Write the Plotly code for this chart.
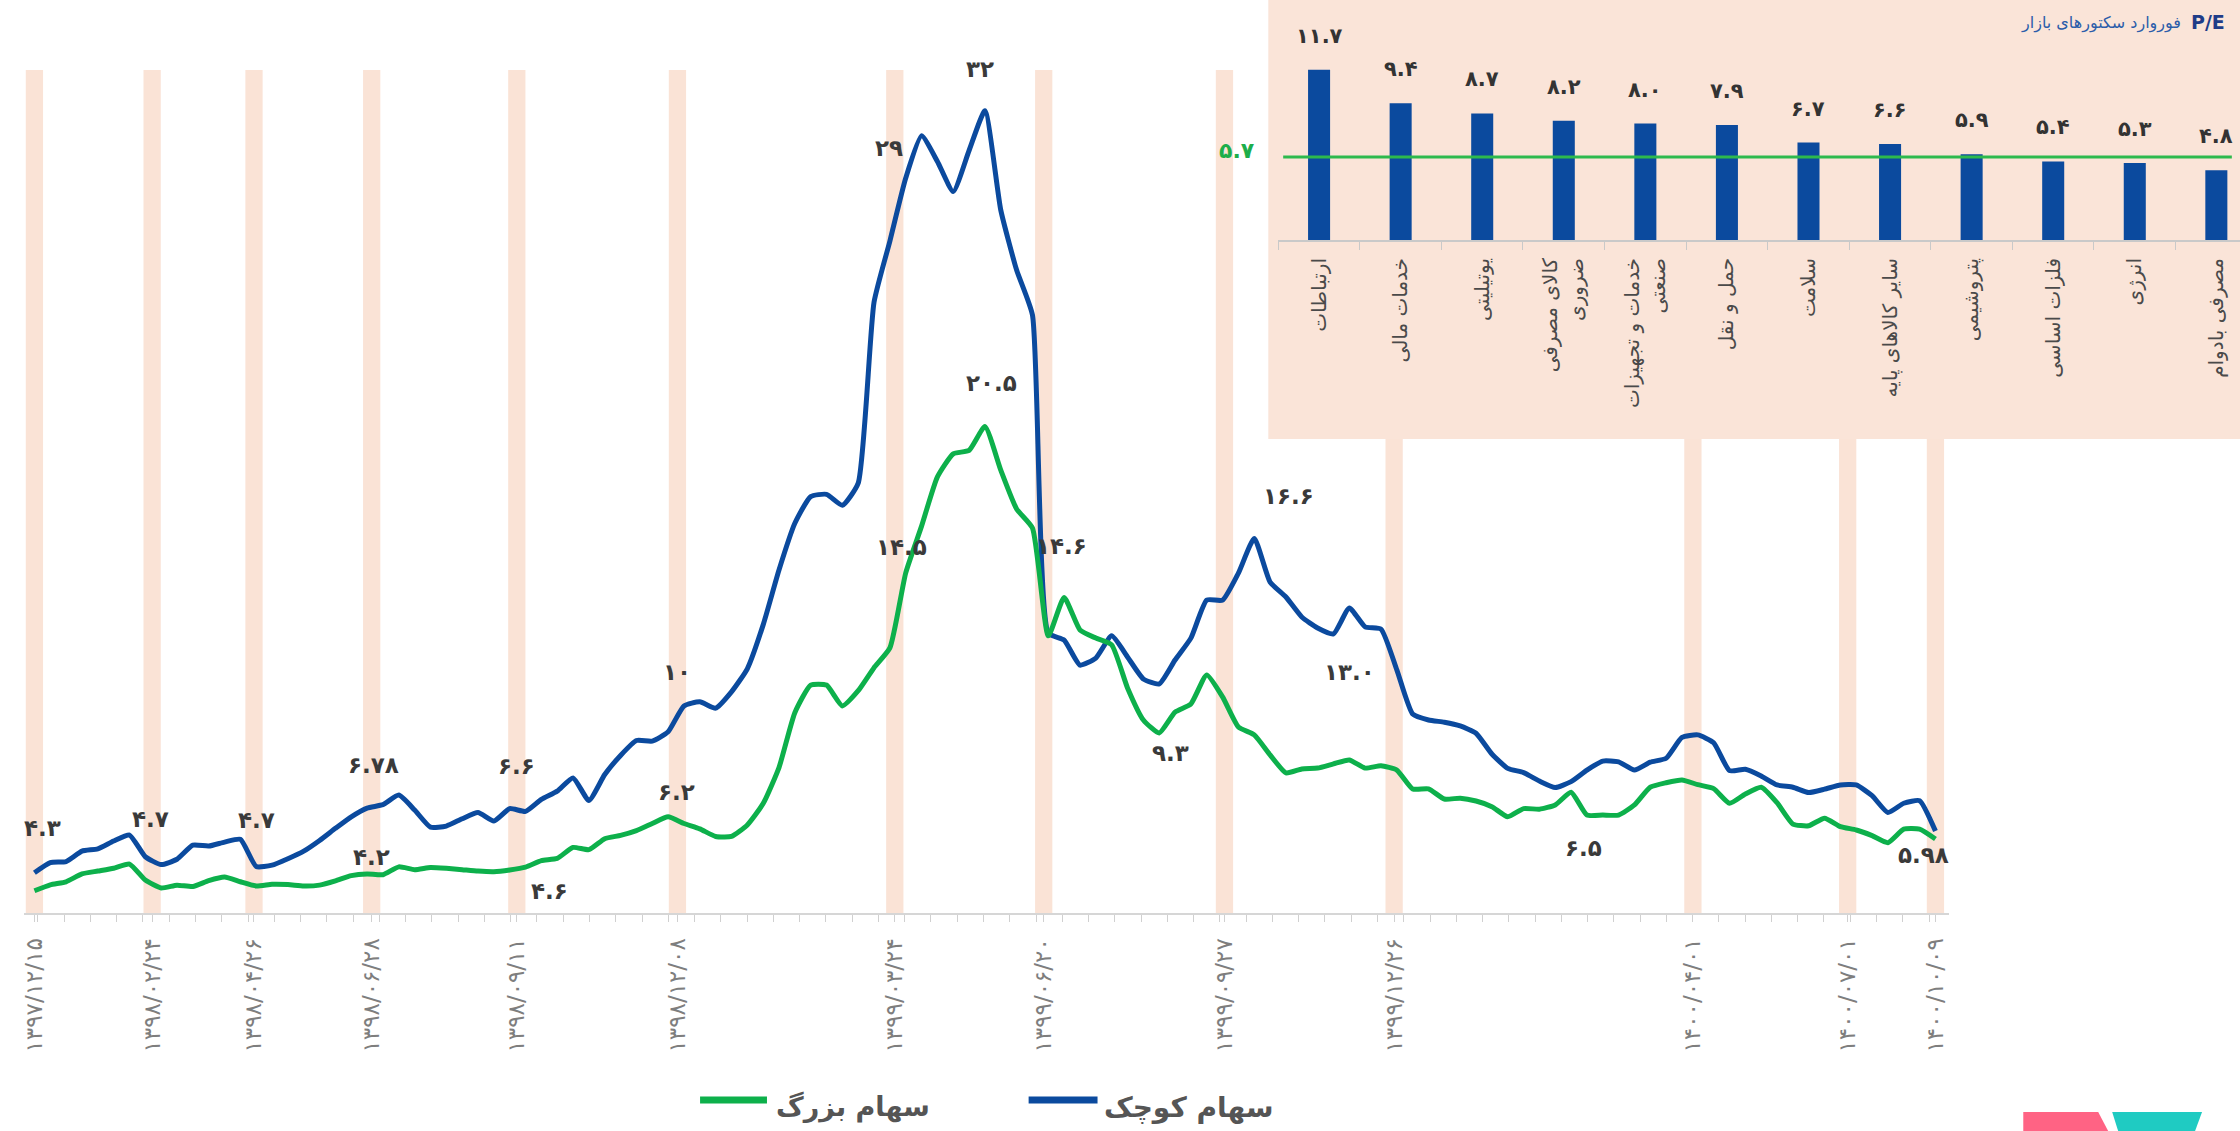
import plotly.graph_objects as go

W, H = 2240, 1131

# ---------------- main chart data (P/E per period) ----------------
# سهام کوچک (small caps, blue)
small_caps_pe = [
    4.52, 4.88, 4.92, 5.29, 5.37, 5.65, 5.86, 5.09, 4.81, 5.00,
    5.50, 5.47, 5.61, 5.71, 4.74, 4.79, 5.02, 5.29, 5.67, 6.10,
    6.51, 6.82, 6.94, 7.28, 6.75, 6.14, 6.18, 6.44, 6.66, 6.36,
    6.80, 6.70, 7.13, 7.42, 7.89, 7.09, 8.01, 8.69, 9.22, 9.20,
    9.53, 10.45, 10.60, 10.37, 10.95, 11.77, 13.33, 15.28, 16.94, 17.89,
    17.97, 17.58, 18.37, 24.80, 26.97, 29.21, 30.71, 29.80, 28.73, 30.19,
    31.60, 28.07, 25.94, 24.34, 13.04, 12.79, 11.90, 12.15, 12.94, 12.19,
    11.41, 11.23, 12.08, 12.86, 14.21, 14.21, 15.17, 16.40, 14.85, 14.32,
    13.61, 13.22, 13.01, 13.93, 13.26, 13.18, 11.73, 10.16, 9.95, 9.87,
    9.74, 9.48, 8.74, 8.23, 8.08, 7.78, 7.55, 7.76, 8.17, 8.49,
    8.46, 8.17, 8.45, 8.59, 9.33, 9.42, 9.14, 8.15, 8.20, 7.96,
    7.64, 7.56, 7.37, 7.49, 7.64, 7.64, 7.26, 6.66, 6.99, 7.08,
    6.00,
]
# سهام بزرگ (large caps, green)
large_caps_pe = [
    3.88, 4.09, 4.20, 4.48, 4.58, 4.68, 4.83, 4.26, 3.98, 4.08,
    4.03, 4.24, 4.37, 4.20, 4.05, 4.11, 4.10, 4.05, 4.08, 4.23,
    4.42, 4.48, 4.45, 4.73, 4.63, 4.71, 4.68, 4.63, 4.58, 4.56,
    4.62, 4.72, 4.95, 5.03, 5.42, 5.34, 5.73, 5.85, 6.02, 6.27,
    6.51, 6.27, 6.08, 5.81, 5.81, 6.22, 6.98, 8.26, 10.21, 11.19,
    11.19, 10.45, 10.99, 11.81, 12.51, 15.18, 16.84, 18.59, 19.41, 19.53,
    20.38, 18.83, 17.45, 16.77, 12.94, 14.30, 13.15, 12.86, 12.62, 11.09,
    9.95, 9.49, 10.23, 10.52, 11.55, 10.77, 9.70, 9.42, 8.71, 8.07,
    8.21, 8.24, 8.39, 8.53, 8.24, 8.32, 8.17, 7.50, 7.50, 7.14,
    7.17, 7.07, 6.87, 6.51, 6.80, 6.78, 6.93, 7.38, 6.57, 6.57,
    6.57, 6.93, 7.56, 7.72, 7.82, 7.65, 7.51, 6.99, 7.32, 7.56,
    7.01, 6.25, 6.19, 6.46, 6.16, 6.04, 5.84, 5.59, 6.07, 6.07,
    5.72,
]
period = list(range(len(small_caps_pe)))

date_labels = [
    "۱۳۹۷/۱۲/۱۵", "۱۳۹۸/۰۲/۲۴", "۱۳۹۸/۰۴/۲۶", "۱۳۹۸/۰۶/۲۸", "۱۳۹۸/۰۹/۱۱",
    "۱۳۹۸/۱۲/۰۸", "۱۳۹۹/۰۳/۲۴", "۱۳۹۹/۰۶/۲۰", "۱۳۹۹/۰۹/۲۷", "۱۳۹۹/۱۲/۲۶",
    "۱۴۰۰/۰۴/۰۱", "۱۴۰۰/۰۷/۰۱", "۱۴۰۰/۱۰/۰۹",
]
date_period = [0, 7.43, 13.86, 21.29, 30.45, 40.59, 54.31, 63.71, 75.12, 85.83, 104.69, 114.46, 120.0]

# labels written on the lines: series, period index, text, pixel offsets
line_labels = [
    ("small", 0, "۴.۳", 8, 45),
    ("small", 6, "۴.۷", 21, 16),
    ("small", 13, "۴.۷", 16, 19),
    ("small", 22, "۶.۷۸", -9, 40),
    ("large", 21, "۴.۲", 4, 17),
    ("small", 30, "۶.۶", 7, 43),
    ("large", 32, "۴.۶", 8, -30),
    ("large", 40, "۶.۲", 8, 25),
    ("small", 41, "۱۰", -7, 34),
    ("large", 55, "۱۴.۵", -4, 26),
    ("small", 56, "۲۹", -33, -12),
    ("small", 60, "۳۲", -5, 42),
    ("large", 60, "۲۰.۵", 7, 44),
    ("large", 65, "۱۴.۶", -3, 52),
    ("small", 77, "۱۶.۶", 34, 42),
    ("small", 83, "۱۳.۰", 0, -64),
    ("large", 71, "۹.۳", 11, -20),
    ("large", 98, "۶.۵", -3, -33),
    ("small", 120, "۵.۹۸", -12, -24),
]

# ---------------- inset data ----------------
sectors = ["ارتباطات", "خدمات مالی", "یوتیلیتی", "کالای مصرفی ضروری",
           "خدمات و تجهیزات صنعتی", "حمل و نقل", "سلامت", "سایر کالاهای پایه",
           "پتروشیمی", "فلزات اساسی", "انرژی", "مصرفی بادوام"]
sector_pe = [11.7, 9.4, 8.7, 8.2, 8.0, 7.9, 6.7, 6.6, 5.9, 5.4, 5.3, 4.8]
market_pe = 5.7
sector_wrap = {"کالای مصرفی ضروری": "کالای مصرفی<br>ضروری",
               "خدمات و تجهیزات صنعتی": "خدمات و تجهیزات<br>صنعتی"}

FA = str.maketrans("0123456789", "۰۱۲۳۴۵۶۷۸۹")


def fa(s):
    return str(s).translate(FA)


# ---------------- styling / geometry ----------------
BLUE = "#0B4A9E"
GREEN = "#0DB04B"
BAND = "#FAE3D6"
INSET_BG = "#FAE4D8"
FONT = "DejaVu Sans"

X_L, X_R = 21, 1949          # main plot pixel extent
Y_T, Y_B = 70, 913
XR = [-0.66, 120.88]
YR = [3.09, 33.05]
INSET_L, INSET_B = 1267, 439


def px(v):
    return v / W


def py(v):
    return 1 - v / H


fig = go.Figure()

fig.add_trace(go.Scatter(x=period, y=small_caps_pe, mode="lines", name="سهام کوچک",
                         line=dict(color=BLUE, width=5, shape="spline", smoothing=0.5),
                         showlegend=False, hoverinfo="skip"))
fig.add_trace(go.Scatter(x=period, y=large_caps_pe, mode="lines", name="سهام بزرگ",
                         line=dict(color=GREEN, width=5, shape="spline", smoothing=0.5),
                         showlegend=False, hoverinfo="skip"))

# inset bars
fig.add_trace(go.Bar(x=sectors, y=sector_pe, xaxis="x2", yaxis="y2", width=0.27,
                     marker=dict(color=BLUE, line=dict(width=0)), showlegend=False,
                     hoverinfo="skip"))

shapes = []
# highlighted period bands
for t in date_period:
    cx = X_L + (t - XR[0]) / (XR[1] - XR[0]) * (X_R - X_L)
    top = py(INSET_B) if cx + 9 > INSET_L else py(Y_T)
    shapes.append(dict(type="rect", xref="x", yref="paper", x0=t - 0.545, x1=t + 0.545,
                       y0=py(Y_B), y1=top, fillcolor=BAND, line=dict(width=0), layer="below"))
# inset background
shapes.append(dict(type="rect", xref="paper", yref="paper", x0=px(INSET_L), x1=1,
                   y0=py(INSET_B), y1=1, fillcolor=INSET_BG, line=dict(width=0), layer="below"))
# market average line in inset
shapes.append(dict(type="line", xref="x2", yref="y2", x0=-0.44, x1=11.19, y0=market_pe,
                   y1=market_pe, line=dict(color="#2DB94D", width=3), layer="above"))
# legend line samples
shapes.append(dict(type="line", xref="paper", yref="paper", x0=px(698), x1=px(765),
                   y0=py(1100), y1=py(1100), line=dict(color=GREEN, width=7)))
shapes.append(dict(type="line", xref="paper", yref="paper", x0=px(1027), x1=px(1096),
                   y0=py(1100), y1=py(1100), line=dict(color=BLUE, width=7)))
# logo marks
pink = [(2023, 1112), (2098, 1112), (2108, 1131), (2023, 1131)]
teal = [(2112, 1112), (2202, 1112), (2195, 1131), (2118, 1131)]
for pts, col in ((pink, "#FF6384"), (teal, "#1FCBC2")):
    path = "M " + " L ".join(f"{px(a):.5f},{py(b):.5f}" for a, b in pts) + " Z"
    shapes.append(dict(type="path", xref="paper", yref="paper", path=path,
                       fillcolor=col, line=dict(width=0)))

ann = []
series = {"small": small_caps_pe, "large": large_caps_pe}
for s, i, txt, dx, dy in line_labels:
    ann.append(dict(x=period[i], y=series[s][i], xref="x", yref="y", text=f"<b>{txt}</b>",
                    showarrow=False, xshift=dx, yshift=dy,
                    font=dict(family=FONT, size=23, color="#3A3A3A")))
for c, v in zip(sectors, sector_pe):
    ann.append(dict(x=c, y=v, xref="x2", yref="y2", text=f"<b>{fa(f'{v:.1f}')}</b>",
                    showarrow=False, yshift=34, font=dict(family=FONT, size=21, color="#333333")))
ann.append(dict(x=px(1256), y=market_pe, xref="paper", yref="y2", xanchor="right",
                yanchor="middle", yshift=7, showarrow=False,
                text=f"<b>{fa(market_pe)}</b>", font=dict(family=FONT, size=22, color="#1DAE4A")))
# inset title
ann.append(dict(x=px(2227), y=py(22), xref="paper", yref="paper", xanchor="right",
                yanchor="middle", showarrow=False, text="<b>P/E</b>",
                font=dict(family=FONT, size=19, color="#1F3C88")))
ann.append(dict(x=px(2183), y=py(23), xref="paper", yref="paper", xanchor="right",
                yanchor="middle", showarrow=False, text="فوروارد سکتورهای بازار",
                font=dict(family=FONT, size=16, color="#2B5DAA")))
# legend texts
ann.append(dict(x=px(772), y=py(1107), xref="paper", yref="paper", xanchor="left",
                yanchor="middle", showarrow=False, text="<b>سهام بزرگ</b>",
                font=dict(family=FONT, size=27, color="#555555")))
ann.append(dict(x=px(1100), y=py(1107), xref="paper", yref="paper", xanchor="left",
                yanchor="middle", showarrow=False, text="<b>سهام کوچک</b>",
                font=dict(family=FONT, size=28, color="#555555")))

fig.update_layout(
    width=W, height=H,
    margin=dict(l=0, r=0, t=0, b=0),
    paper_bgcolor="white", plot_bgcolor="rgba(0,0,0,0)",
    showlegend=False,
    xaxis=dict(domain=[px(X_L), px(X_R)], range=XR, showgrid=False, zeroline=False,
               showline=True, linecolor="#D6D6D6", linewidth=2,
               tickmode="array", tickvals=date_period, ticktext=date_labels,
               tickangle=-90, ticks="outside", ticklen=7, tickcolor="#D0D0D0",
               ticklabelstandoff=7,
               tickfont=dict(family=FONT, size=23, color="#7E7E7E"),
               minor=dict(ticks="outside", ticklen=7, tickcolor="#D0D0D0",
                          tick0=0.22, dtick=1.658, showgrid=False)),
    yaxis=dict(domain=[py(Y_B), py(Y_T)], range=YR, visible=False),
    xaxis2=dict(domain=[px(1277), 1.0], range=[-0.5, 11.29], anchor="y2",
                type="category", showgrid=False, zeroline=False,
                showline=True, linecolor="#C9C9C9", linewidth=2,
                tickmode="array", tickvals=sectors,
                ticktext=[sector_wrap.get(c, c) for c in sectors],
                tickangle=-90, ticks="outside", ticklen=8, tickcolor="#C9C9C9",
                tickson="boundaries", ticklabelstandoff=8,
                tickfont=dict(family=FONT, size=20, color="#4A4A4A")),
    yaxis2=dict(domain=[py(240), 1.0], range=[0, 240 / 14.55], anchor="x2", visible=False),
    shapes=shapes,
    annotations=ann,
    bargap=0.73,
)

fig.write_html("out.html", config={"displayModeBar": False},
               post_script="document.body.style.margin='0px';")
